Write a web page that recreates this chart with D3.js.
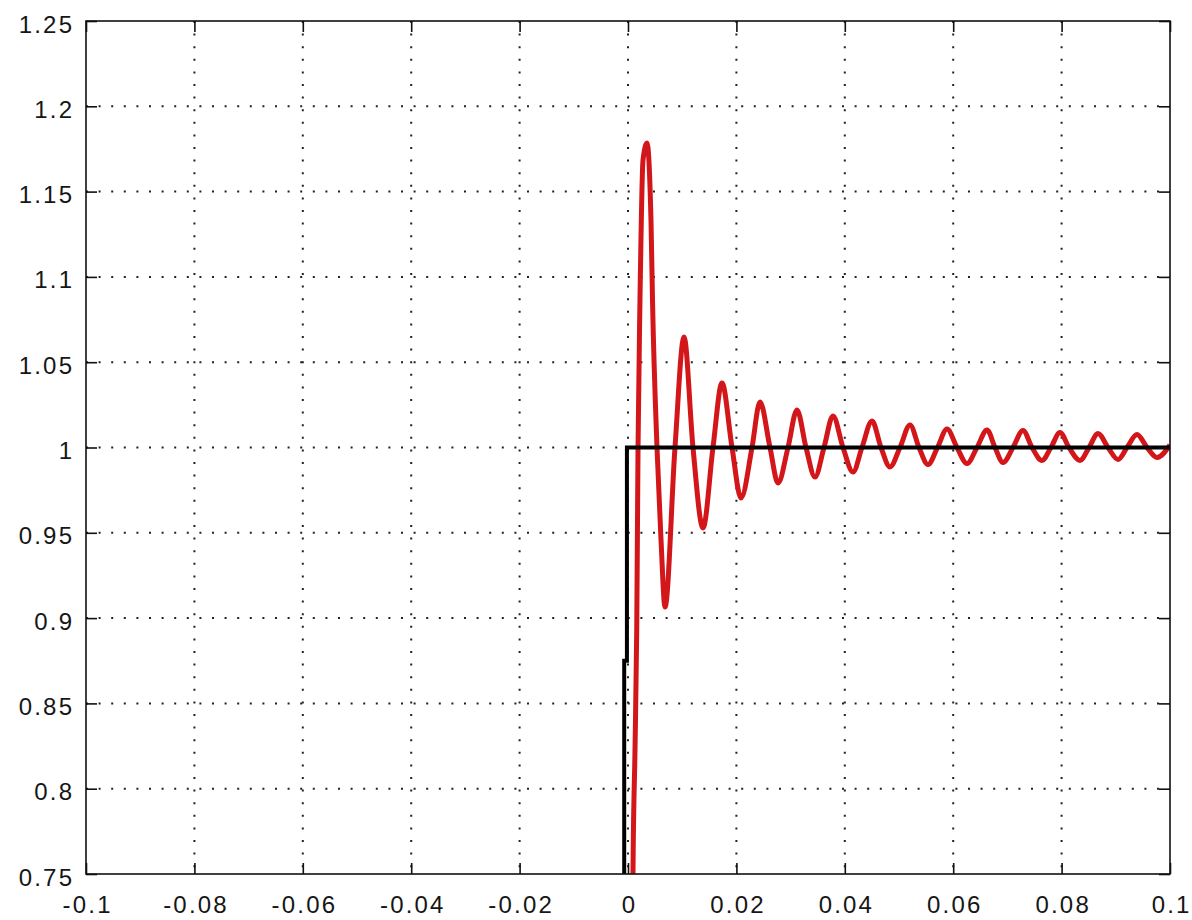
<!DOCTYPE html>
<html>
<head>
<meta charset="utf-8">
<script src="https://cdn.jsdelivr.net/npm/d3@7"></script>
<style>
  html, body { margin: 0; padding: 0; background: #fff; }
  svg { display: block; }
  .tick-label { font-family: "Liberation Sans", Arial, sans-serif; font-size: 24px; fill: #161616; letter-spacing: 2.2px; }
</style>
</head>
<body>
<svg id="chart" width="1192" height="920"></svg>
<script>
// Axis ranges and tick labels
const xDomain = [-0.1, 0.1];
const yDomain = [0.75, 1.25];
const xTicks = [-0.1, -0.08, -0.06, -0.04, -0.02, 0, 0.02, 0.04, 0.06, 0.08, 0.1];
const xTickLabels = ["-0.1", "-0.08", "-0.06", "-0.04", "-0.02", "0", "0.02", "0.04", "0.06", "0.08", "0.1"];
const yTicks = [0.75, 0.8, 0.85, 0.9, 0.95, 1, 1.05, 1.1, 1.15, 1.2, 1.25];
const yTickLabels = ["0.75", "0.8", "0.85", "0.9", "0.95", "1", "1.05", "1.1", "1.15", "1.2", "1.25"];

// Step input (black)
const stepT = [-0.1, -0.0007, -0.0007, -0.0002, -0.0002, 0.1];
const stepV = [0, 0, 0.875, 0.875, 1, 1];

// Step response (red): turning points and crossings of the set value
const respT = [0.00055, 0.00092, 0.00129, 0.00161, 0.00185, 0.00221, 0.00277, 0.00351, 0.00424, 0.00452,
  0.00535, 0.00609, 0.00683, 0.00867, 0.01033, 0.01199, 0.01384, 0.01568, 0.01734, 0.01919,
  0.02085, 0.02288, 0.02435, 0.0262, 0.02768, 0.02952, 0.03118, 0.03284, 0.0345, 0.03616,
  0.03782, 0.03967, 0.04151, 0.04317, 0.04502, 0.04668, 0.04834, 0.05018, 0.05203, 0.05369,
  0.05535, 0.0571, 0.05886, 0.0607, 0.06255, 0.06439, 0.06624, 0.06771, 0.06919, 0.07103,
  0.07288, 0.07454, 0.07638, 0.07804, 0.0797, 0.08137, 0.08339, 0.08506, 0.08672, 0.08856,
  0.09041, 0.09207, 0.09391, 0.09576, 0.0976, 0.1];
const respV = [0.0, 0.75, 0.8227, 0.893, 1.0, 1.0865, 1.1685, 1.1785, 1.1334, 1.0865,
  1.0, 0.9458, 0.9065, 1.0, 1.0648, 1.0, 0.9528, 1.0, 1.0378, 1.0,
  0.9704, 1.0, 1.0267, 1.0, 0.9792, 1.0, 1.022, 1.0, 0.9827, 1.0,
  1.0185, 1.0, 0.9856, 1.0, 1.0155, 1.0, 0.9886, 1.0, 1.0132, 1.0,
  0.99, 1.0, 1.0108, 1.0, 0.9906, 1.0, 1.0103, 1.0, 0.9912, 1.0,
  1.01, 1.0, 0.9924, 1.0, 1.0088, 1.0, 0.9924, 1.0, 1.0082, 1.0,
  0.993, 1.0, 1.0076, 1.0, 0.9941, 1.0015];

const svg = d3.select("#chart");
const margin = { left: 86, right: 22, top: 21, bottom: 46 };
const W = 1192, H = 920;
const x = d3.scaleLinear().domain(xDomain).range([margin.left, W - margin.right]);
const y = d3.scaleLinear().domain(yDomain).range([H - margin.bottom, margin.top]);
const x0 = x.range()[0], x1 = x.range()[1], y0 = y.range()[1], y1 = y.range()[0];
const letterGap = 2.2;

svg.append("rect").attr("width", W).attr("height", H).attr("fill", "#fff");

svg.append("defs").append("clipPath").attr("id", "plot-clip")
  .append("rect").attr("x", x0).attr("y", y0).attr("width", x1 - x0).attr("height", y1 - y0);

// Dotted grid
const grid = svg.append("g").attr("stroke", "#222").attr("stroke-width", 2)
  .attr("stroke-dasharray", "2 10.6").attr("fill", "none");
grid.selectAll("line.vx").data(xTicks.slice(1, -1)).join("line")
  .attr("x1", d => x(d)).attr("x2", d => x(d)).attr("y1", y0).attr("y2", y1);
grid.selectAll("line.hy").data(yTicks.slice(1, -1)).join("line")
  .attr("class", "hy")
  .attr("x1", x0).attr("x2", x1).attr("y1", d => y(d)).attr("y2", d => y(d));

// Data lines
const plot = svg.append("g").attr("clip-path", "url(#plot-clip)");
const resp = respT.map((t, i) => [t, respV[i]]);
const step = stepT.map((t, i) => [t, stepV[i]]);

plot.append("path").datum(resp)
  .attr("fill", "none").attr("stroke", "#d31619").attr("stroke-width", 5)
  .attr("stroke-linejoin", "round")
  .attr("d", d3.line().x(d => x(d[0])).y(d => y(d[1])).curve(d3.curveMonotoneX));

plot.append("path").datum(step)
  .attr("fill", "none").attr("stroke", "#000").attr("stroke-width", 4)
  .attr("d", d3.line().x(d => x(d[0])).y(d => y(d[1])));

// Axes with inward ticks on all four sides
const tickLen = 11;
const fmtX = d => xTickLabels[xTicks.indexOf(d)];
const fmtY = d => yTickLabels[yTicks.indexOf(d)];

const axisStyle = g => {
  g.select(".domain").remove();
  g.selectAll(".tick line").attr("stroke", "#111").attr("stroke-width", 1.6);
};

svg.append("g").attr("transform", `translate(0,${y1})`)
  .call(d3.axisBottom(x).tickValues(xTicks).tickSize(-tickLen).tickFormat(fmtX))
  .call(axisStyle)
  .call(g => g.selectAll(".tick text").attr("class", "tick-label")
    .attr("x", letterGap / 2).attr("y", 38.5).attr("dy", 0).attr("text-anchor", "middle"));

svg.append("g").attr("transform", `translate(0,${y0})`)
  .call(d3.axisTop(x).tickValues(xTicks).tickSize(-tickLen).tickFormat(""))
  .call(axisStyle);

svg.append("g").attr("transform", `translate(${x0},0)`)
  .call(d3.axisLeft(y).tickValues(yTicks).tickSize(-tickLen).tickFormat(fmtY))
  .call(axisStyle)
  .call(g => g.selectAll(".tick text").attr("class", "tick-label")
    .attr("x", -14 + letterGap).attr("dy", 11).attr("text-anchor", "end"));

svg.append("g").attr("transform", `translate(${x1},0)`)
  .call(d3.axisRight(y).tickValues(yTicks).tickSize(-tickLen).tickFormat(""))
  .call(axisStyle);

// Frame
svg.append("rect").attr("x", x0).attr("y", y0).attr("width", x1 - x0).attr("height", y1 - y0)
  .attr("fill", "none").attr("stroke", "#111").attr("stroke-width", 1.6);
</script>
</body>
</html>
